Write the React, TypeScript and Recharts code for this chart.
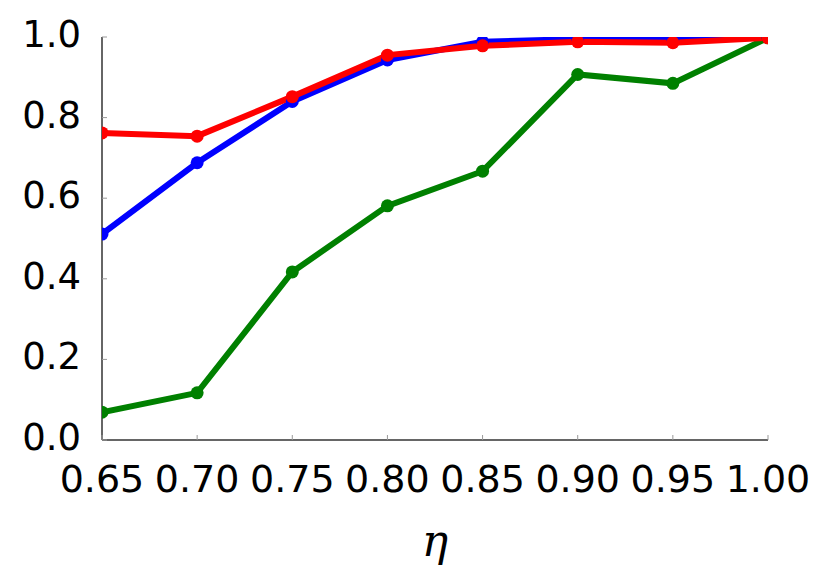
import React from 'react';
import { LineChart, Line, XAxis, YAxis } from 'recharts';

const etaValues = [0.65, 0.7, 0.75, 0.8, 0.85, 0.9, 0.95, 1.0];
const blueSeries = [0.511, 0.688, 0.84, 0.943, 0.988, 0.995, 0.995, 1.0];
const redSeries = [0.762, 0.754, 0.852, 0.955, 0.978, 0.988, 0.986, 0.998];
const greenSeries = [0.069, 0.117, 0.417, 0.581, 0.667, 0.907, 0.885, 0.998];
const xTicks = [0.65, 0.7, 0.75, 0.8, 0.85, 0.9, 0.95, 1.0];
const yTicks = [0, 0.2, 0.4, 0.6, 0.8, 1.0];

const data = etaValues.map((eta, i) => ({
  eta,
  blue: blueSeries[i],
  red: redSeries[i],
  green: greenSeries[i],
}));

const FONT = 'DejaVu Sans';
const TICK_COLOR = '#999';
const TICK_LEN = 5;

const BottomTick = (props: any) => {
  const { x, y, payload } = props;
  return (
    <g>
      <line x1={x} y1={y} x2={x} y2={y - TICK_LEN} stroke={TICK_COLOR} strokeWidth={1} />
      <text x={x} y={y + 52} textAnchor="middle" fontFamily={FONT} fontSize={38} fill="#000">
        {Number(payload.value).toFixed(2)}
      </text>
    </g>
  );
};

const TopTick = (props: any) => {
  const { x, y } = props;
  return <line x1={x} y1={y} x2={x} y2={y + TICK_LEN} stroke={TICK_COLOR} strokeWidth={1} />;
};

const LeftTick = (props: any) => {
  const { x, y, payload } = props;
  return (
    <g>
      <line x1={x} y1={y} x2={x + TICK_LEN} y2={y} stroke={TICK_COLOR} strokeWidth={1} />
      <text x={x - 21} y={y + 10} textAnchor="end" fontFamily={FONT} fontSize={37} fill="#000">
        {Number(payload.value).toFixed(1)}
      </text>
    </g>
  );
};

const RightTick = (props: any) => {
  const { x, y } = props;
  return <line x1={x} y1={y} x2={x - TICK_LEN} y2={y} stroke={TICK_COLOR} strokeWidth={1} />;
};

const EtaLabel = (props: any) => {
  const { viewBox } = props;
  const cx = viewBox.x + viewBox.width / 2;
  return (
    <text x={cx} y={556} textAnchor="middle" fontFamily="DejaVu Serif" fontStyle="italic" fontSize={44} fill="#000">
      η
    </text>
  );
};

export default function App() {
  return (
    <div style={{ position: 'absolute', left: 0, top: 0 }}>
      <LineChart width={830} height={581} data={data} margin={{ top: 37, right: 62, bottom: 0, left: 0 }}>
        <XAxis
          xAxisId="bottom"
          dataKey="eta"
          type="number"
          domain={[0.65, 1.0]}
          ticks={xTicks}
          interval={0}
          tickSize={0}
          tickMargin={0}
          tickLine={false}
          height={141}
          axisLine={{ stroke: '#333', strokeWidth: 1.5 }}
          tick={<BottomTick />}
          allowDataOverflow
          label={<EtaLabel />}
        />
        <XAxis
          xAxisId="top"
          orientation="top"
          dataKey="eta"
          type="number"
          domain={[0.65, 1.0]}
          ticks={xTicks}
          interval={0}
          tickSize={0}
          tickMargin={0}
          tickLine={false}
          height={0}
          axisLine={{ stroke: '#333', strokeWidth: 1.5 }}
          tick={<TopTick />}
          allowDataOverflow
        />
        <YAxis
          yAxisId="left"
          type="number"
          domain={[0, 1]}
          ticks={yTicks}
          interval={0}
          tickSize={0}
          tickMargin={0}
          tickLine={false}
          width={102}
          axisLine={{ stroke: '#333', strokeWidth: 1.5 }}
          tick={<LeftTick />}
          allowDataOverflow
        />
        <YAxis
          yAxisId="right"
          orientation="right"
          type="number"
          domain={[0, 1]}
          ticks={yTicks}
          interval={0}
          tickSize={0}
          tickMargin={0}
          tickLine={false}
          width={0}
          axisLine={{ stroke: '#333', strokeWidth: 1.5 }}
          tick={<RightTick />}
          allowDataOverflow
        />
        <Line xAxisId="bottom" yAxisId="left" dataKey="green" stroke="#008000" strokeWidth={6}
          dot={{ r: 6.5, fill: '#008000', stroke: '#008000', strokeWidth: 0 }} isAnimationActive={false} />
        <Line xAxisId="bottom" yAxisId="left" dataKey="blue" stroke="#0000ff" strokeWidth={6}
          dot={{ r: 6.5, fill: '#0000ff', stroke: '#0000ff', strokeWidth: 0 }} isAnimationActive={false} />
        <Line xAxisId="bottom" yAxisId="left" dataKey="red" stroke="#ff0000" strokeWidth={6}
          dot={{ r: 6.5, fill: '#ff0000', stroke: '#ff0000', strokeWidth: 0 }} isAnimationActive={false} />
      </LineChart>
    </div>
  );
}
